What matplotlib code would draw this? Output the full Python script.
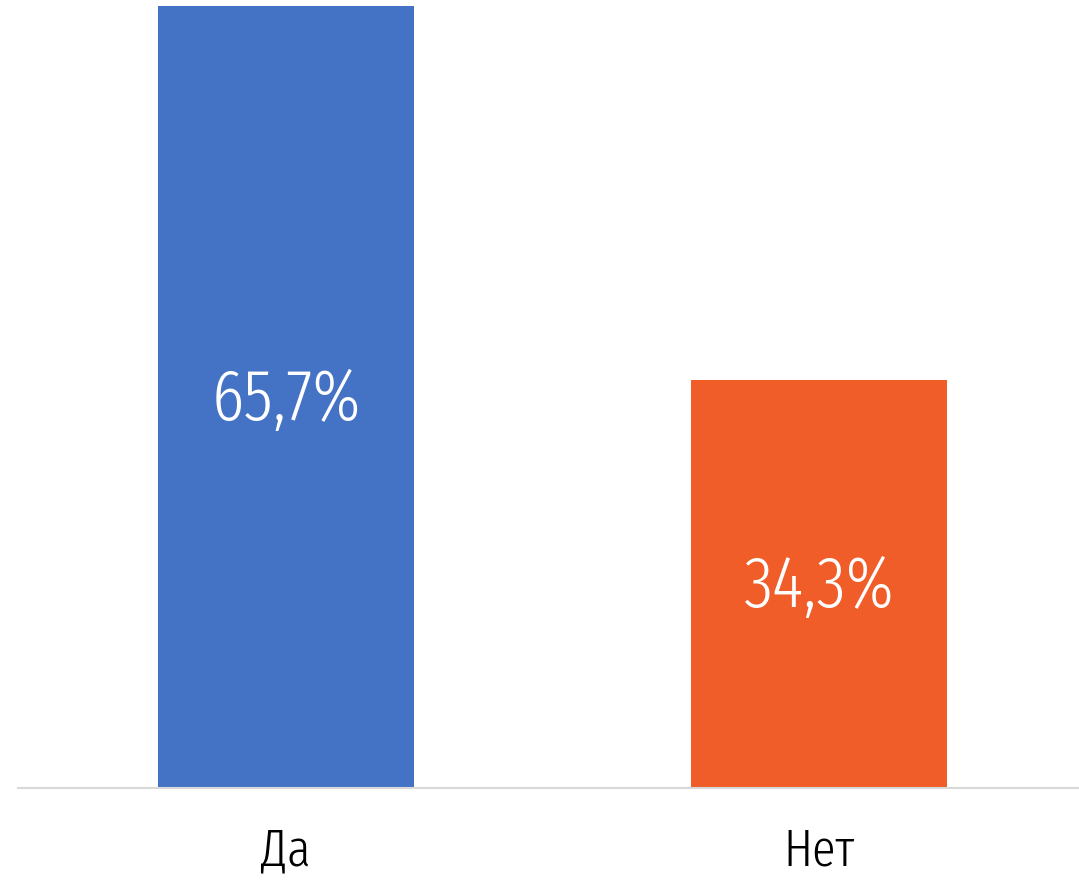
import matplotlib
matplotlib.use("Agg")
import matplotlib.pyplot as plt
from matplotlib import font_manager

categories = ["Да", "Нет"]
values = [65.7, 34.3]
labels = ["65,7%", "34,3%"]
colors = ["#4472C4", "#F15D29"]

# the reference uses a very narrow face; take the narrowest one that is installed
font = "DejaVu Sans"
stretch = "normal"
fonts = font_manager.fontManager.ttflist
for want in ["Fira Sans Extra Condensed", "Roboto Condensed", "Fira Sans Condensed",
             "IBM Plex Sans Condensed", "Liberation Sans Narrow"]:
    hit = [f for f in fonts if f.name == want]
    if hit:
        font, stretch = hit[0].name, hit[0].stretch
        break
plt.rcParams['font.family'] = [font, 'DejaVu Sans']

fig = plt.figure(figsize=(10.79, 8.80), dpi=100)
ax = fig.add_axes([18 / 1079, 1 - 788 / 880, 1 - 18 / 1079, 788 / 880])

x = range(len(categories))
bars = ax.bar(x, values, width=0.48, color=colors)
for b, lab in zip(bars, labels):
    ax.text(b.get_x() + b.get_width() / 2, b.get_height() / 2 - 0.3, lab,
            ha="center", va="center", color="white", fontsize=52,
            fontweight=300, fontstretch=stretch)

ax.set_xlim(-0.503, 1.488)
ax.set_ylim(0, 66.2)
for s in ["top", "right", "left"]:
    ax.spines[s].set_visible(False)
ax.spines["bottom"].set_color("#D9D9D9")
ax.spines["bottom"].set_linewidth(1.5)
ax.set_yticks([])
ax.set_xticks(list(x))
ax.set_xticklabels(categories, fontsize=38, fontweight=300, fontstretch=stretch)
ax.tick_params(axis="x", length=0, pad=28)

fig.savefig("out.png", dpi=100)
